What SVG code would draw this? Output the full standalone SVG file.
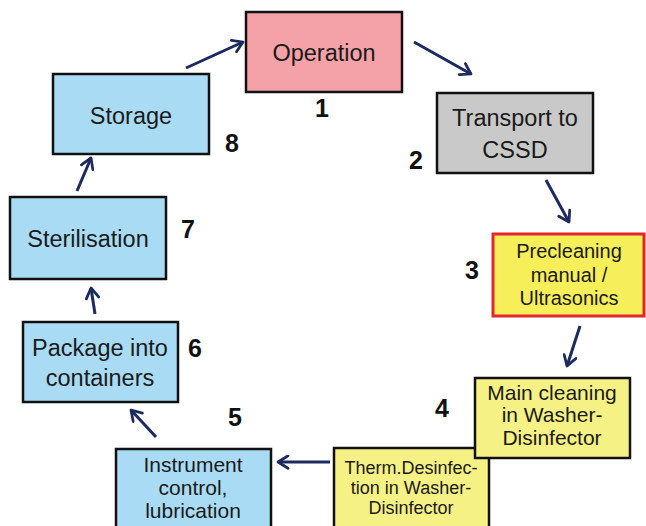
<svg xmlns="http://www.w3.org/2000/svg" width="646" height="526" viewBox="0 0 646 526">
<style>
.box{stroke:#111;stroke-width:2.5}
.t{font-family:"Liberation Sans",Arial,sans-serif;font-size:23.5px;fill:#1a1a1a;text-anchor:middle}
.s{font-size:21px}
.p{font-size:20px}
.xs{font-size:18px}
.n{font-family:"Liberation Sans",Arial,sans-serif;font-size:25px;font-weight:bold;fill:#111;text-anchor:middle}
.c{stroke:#1c2a5e;stroke-width:3;fill:none;marker-end:url(#a)}
</style>
<defs>
<marker id="a" viewBox="0 0 12 12" refX="10" refY="6" markerWidth="5" markerHeight="5" orient="auto" markerUnits="strokeWidth">
<path d="M2,1 L10,6 L2,11" fill="none" stroke="#1c2a5e" stroke-width="2.2" stroke-linecap="round" stroke-linejoin="round"/>
</marker>
</defs>
<rect width="646" height="526" fill="#fff"/>
<g id="connectors">
<line class="c" x1="186" y1="68" x2="243" y2="42"/>
<line class="c" x1="414" y1="42" x2="471" y2="74"/>
<line class="c" x1="546" y1="180" x2="569" y2="222"/>
<line class="c" x1="580" y1="326" x2="567" y2="366"/>
<line class="c" x1="330" y1="462" x2="278" y2="462"/>
<line class="c" x1="156" y1="437" x2="131" y2="410"/>
<line class="c" x1="95" y1="314" x2="91" y2="288"/>
<line class="c" x1="77" y1="191" x2="91" y2="158"/>
</g>
<g id="n1"><rect class="box" x="246" y="12" width="156" height="80" fill="#f4a1a8"/><text class="t" x="324" y="61">Operation</text><text class="n" x="322" y="117">1</text></g>
<g id="n2"><rect class="box" x="437" y="93" width="156" height="80" fill="#c9c9c9"/><text class="t" x="515" y="126">Transport to</text><text class="t" x="515" y="158">CSSD</text><text class="n" x="416" y="169">2</text></g>
<g id="n4"><rect class="box" x="334" y="448" width="155" height="90" fill="#f6f184"/><text class="t xs" x="411" y="474">Therm.Desinfec-</text><text class="t xs" x="411" y="494">tion in Washer-</text><text class="t xs" x="411" y="514">Disinfector</text></g>
<g id="n3"><rect x="493" y="234" width="151" height="82" fill="#f6ef5a" stroke="#e3262e" stroke-width="3"/><text class="t p" x="569" y="258">Precleaning</text><text class="t p" x="569" y="282">manual /</text><text class="t p" x="569" y="305">Ultrasonics</text><text class="n" x="472" y="279">3</text></g>
<g id="n4b"><rect class="box" x="475" y="378" width="155" height="80" fill="#f6f184"/><text class="t s" x="552" y="400">Main cleaning</text><text class="t s" x="552" y="422">in Washer-</text><text class="t s" x="552" y="445">Disinfector</text><text class="n" x="442" y="417">4</text></g>
<g id="n5"><rect class="box" x="116" y="449" width="155" height="90" fill="#a9dcf4"/><text class="t s" x="193" y="472">Instrument</text><text class="t s" x="193" y="495">control,</text><text class="t s" x="193" y="518">lubrication</text><text class="n" x="235" y="426">5</text></g>
<g id="n6"><rect class="box" x="23" y="322" width="155" height="80" fill="#a9dcf4"/><text class="t" x="100" y="356">Package into</text><text class="t" x="100" y="386">containers</text><text class="n" x="195" y="357">6</text></g>
<g id="n7"><rect class="box" x="10" y="197" width="156" height="82" fill="#a9dcf4"/><text class="t" x="88" y="247">Sterilisation</text><text class="n" x="188" y="238">7</text></g>
<g id="n8"><rect class="box" x="53" y="74" width="156" height="80" fill="#a9dcf4"/><text class="t" x="131" y="124">Storage</text><text class="n" x="232" y="152">8</text></g>
</svg>
